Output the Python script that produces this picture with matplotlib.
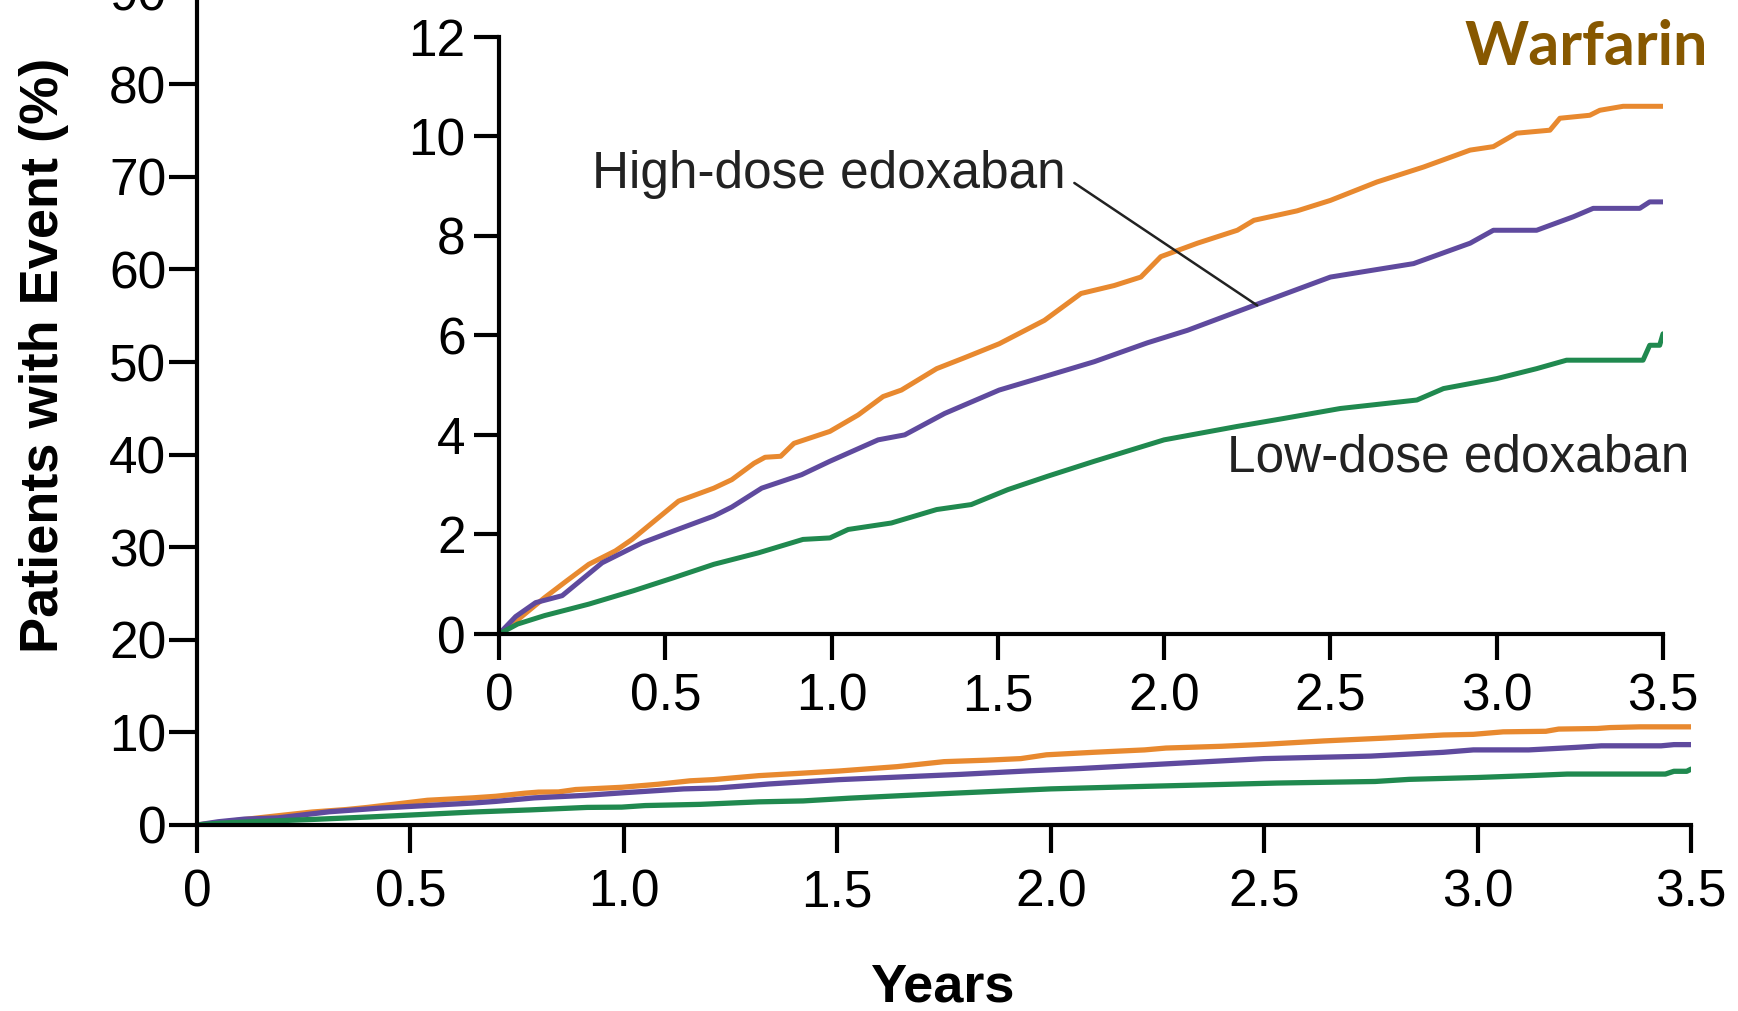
import matplotlib
matplotlib.use("Agg")
import matplotlib.pyplot as plt
from matplotlib.ticker import FixedLocator, FuncFormatter

plt.rcParams['font.family'] = ['Liberation Sans Narrow', 'Liberation Sans', 'DejaVu Sans']

# Cumulative event curves (percent of patients) by treatment group
warfarin_years = [0, 0.05, 0.137, 0.2, 0.27, 0.35, 0.40, 0.46, 0.54, 0.646, 0.70, 0.767, 0.80,
                  0.847, 0.887, 0.995, 1.08, 1.155, 1.21, 1.316, 1.40, 1.504, 1.64, 1.75, 1.85,
                  1.93, 1.99, 2.10, 2.22, 2.27, 2.40, 2.5, 2.64, 2.78, 2.92, 2.99, 3.06, 3.16,
                  3.19, 3.28, 3.31, 3.38, 3.5]
warfarin_pct = [0, 0.25, 0.73, 1.05, 1.4, 1.67, 1.9, 2.23, 2.67, 2.93, 3.1, 3.43, 3.55,
                3.57, 3.83, 4.07, 4.4, 4.77, 4.9, 5.33, 5.55, 5.83, 6.3, 6.84, 7.0,
                7.17, 7.58, 7.85, 8.11, 8.31, 8.5, 8.71, 9.08, 9.38, 9.72, 9.79, 10.06, 10.12,
                10.36, 10.42, 10.52, 10.6, 10.6]

high_years = [0, 0.05, 0.11, 0.19, 0.25, 0.31, 0.43, 0.525, 0.646, 0.70, 0.79, 0.91, 0.995,
              1.14, 1.22, 1.34, 1.504, 1.64, 1.79, 1.95, 2.07, 2.27, 2.5, 2.62, 2.75, 2.92,
              2.99, 3.12, 3.23, 3.29, 3.43, 3.46, 3.5]
high_pct = [0, 0.35, 0.63, 0.77, 1.1, 1.43, 1.83, 2.07, 2.37, 2.55, 2.93, 3.2, 3.47,
            3.9, 4.0, 4.43, 4.9, 5.17, 5.47, 5.85, 6.1, 6.6, 7.17, 7.3, 7.44, 7.85,
            8.11, 8.11, 8.38, 8.55, 8.55, 8.68, 8.68]

low_years = [0, 0.056, 0.137, 0.27, 0.405, 0.525, 0.646, 0.78, 0.914, 0.995, 1.05, 1.18,
             1.316, 1.42, 1.53, 1.65, 1.79, 2.0, 2.22, 2.36, 2.53, 2.76, 2.84, 3.0, 3.12,
             3.21, 3.44, 3.46, 3.49, 3.5]
low_pct = [0, 0.2, 0.37, 0.6, 0.87, 1.13, 1.4, 1.63, 1.9, 1.93, 2.1, 2.23,
           2.5, 2.6, 2.9, 3.17, 3.47, 3.9, 4.17, 4.33, 4.53, 4.7, 4.93, 5.13, 5.33,
           5.5, 5.5, 5.8, 5.8, 6.03]

x_ticks = [0, 0.5, 1.0, 1.5, 2.0, 2.5, 3.0, 3.5]
x_tick_labels = ["0", "0.5", "1.0", "1.5", "2.0", "2.5", "3.0", "3.5"]
main_y_ticks = [0, 10, 20, 30, 40, 50, 60, 70, 80, 90]
inset_y_ticks = [0, 2, 4, 6, 8, 10, 12]

c_warf = "#e8892f"
c_high = "#5f4a9e"
c_low = "#20894f"

W, H = 1738, 1011
fig = plt.figure(figsize=(W / 100, H / 100), dpi=100)

MAIN_TOP = 92
PX_PER_PCT = 9.26


def frac_box(x0, y_bottom_px, x1, y_top_px):
    return [x0 / W, 1 - y_bottom_px / H, (x1 - x0) / W, (y_bottom_px - y_top_px) / H]


def style_axes(ax, tick_len_x, tick_len_y, pad_x, pad_y, fs):
    for s in ("top", "right"):
        ax.spines[s].set_visible(False)
    for s in ("left", "bottom"):
        ax.spines[s].set_linewidth(3.0)
        ax.spines[s].set_color("black")
        ax.spines[s].set_capstyle("projecting")
    ax.tick_params(axis="x", direction="out", length=tick_len_x, width=3.0,
                   pad=pad_x, labelsize=fs, colors="black")
    ax.tick_params(axis="y", direction="out", length=tick_len_y, width=3.0,
                   pad=pad_y, labelsize=fs, colors="black")
    ax.set_facecolor("none")


# Main axes: full percentage scale (runs past the top edge of the figure)
ax = fig.add_axes(frac_box(197, 825, 1691, 825 - MAIN_TOP * PX_PER_PCT))
ax.plot(warfarin_years, warfarin_pct, color=c_warf, lw=3.8, solid_capstyle="round")
ax.plot(high_years, high_pct, color=c_high, lw=3.8, solid_capstyle="round")
ax.plot(low_years, low_pct, color=c_low, lw=3.8, solid_capstyle="round")
ax.set_xlim(0, 3.5)
ax.set_ylim(0, MAIN_TOP)
ax.xaxis.set_major_locator(FixedLocator(x_ticks))
ax.set_xticklabels(x_tick_labels)
ax.yaxis.set_major_locator(FixedLocator(main_y_ticks))
ax.yaxis.set_major_formatter(FuncFormatter(lambda v, p: f"{v:.0f}"))
style_axes(ax, 20, 20, 11, 2, 37)

# Inset axes: zoomed 0-12% scale
axi = fig.add_axes(frac_box(499, 634, 1663, 36.6))
axi.plot(warfarin_years, warfarin_pct, color=c_warf, lw=3.6, solid_capstyle="round")
axi.plot(high_years, high_pct, color=c_high, lw=3.6, solid_capstyle="round")
axi.plot(low_years, low_pct, color=c_low, lw=3.6, solid_capstyle="round")
axi.set_xlim(0, 3.5)
axi.set_ylim(0, 12)
axi.xaxis.set_major_locator(FixedLocator(x_ticks))
axi.set_xticklabels(x_tick_labels)
axi.yaxis.set_major_locator(FixedLocator(inset_y_ticks))
style_axes(axi, 19, 18, 9, 6, 37)

axi.text(1.705, 9.22, "High-dose edoxaban", fontsize=37, ha="right", va="center",
         color="#222222")
axi.annotate("", xy=(2.28, 6.6), xytext=(1.73, 9.06),
             arrowprops=dict(arrowstyle="-", color="#222222", lw=1.8,
                             shrinkA=0, shrinkB=0))
axi.text(2.19, 3.53, "Low-dose edoxaban", fontsize=37, ha="left", va="center",
         color="#222222")

fig.text(44 / W, 1 - 355 / H, "Patients with Event (%)", rotation=90,
         fontsize=39, fontweight="bold", ha="center", va="center")
fig.text(942 / W, 1 - 987 / H, "Years", fontsize=39, fontweight="bold",
         ha="center", va="center")
fig.text(1586 / W, 1 - 47 / H, "Warfarin", fontsize=44, fontweight="bold",
         color="#875800", ha="center", va="center", family=["Lato", "DejaVu Sans"])

fig.savefig("out.png", dpi=100)
